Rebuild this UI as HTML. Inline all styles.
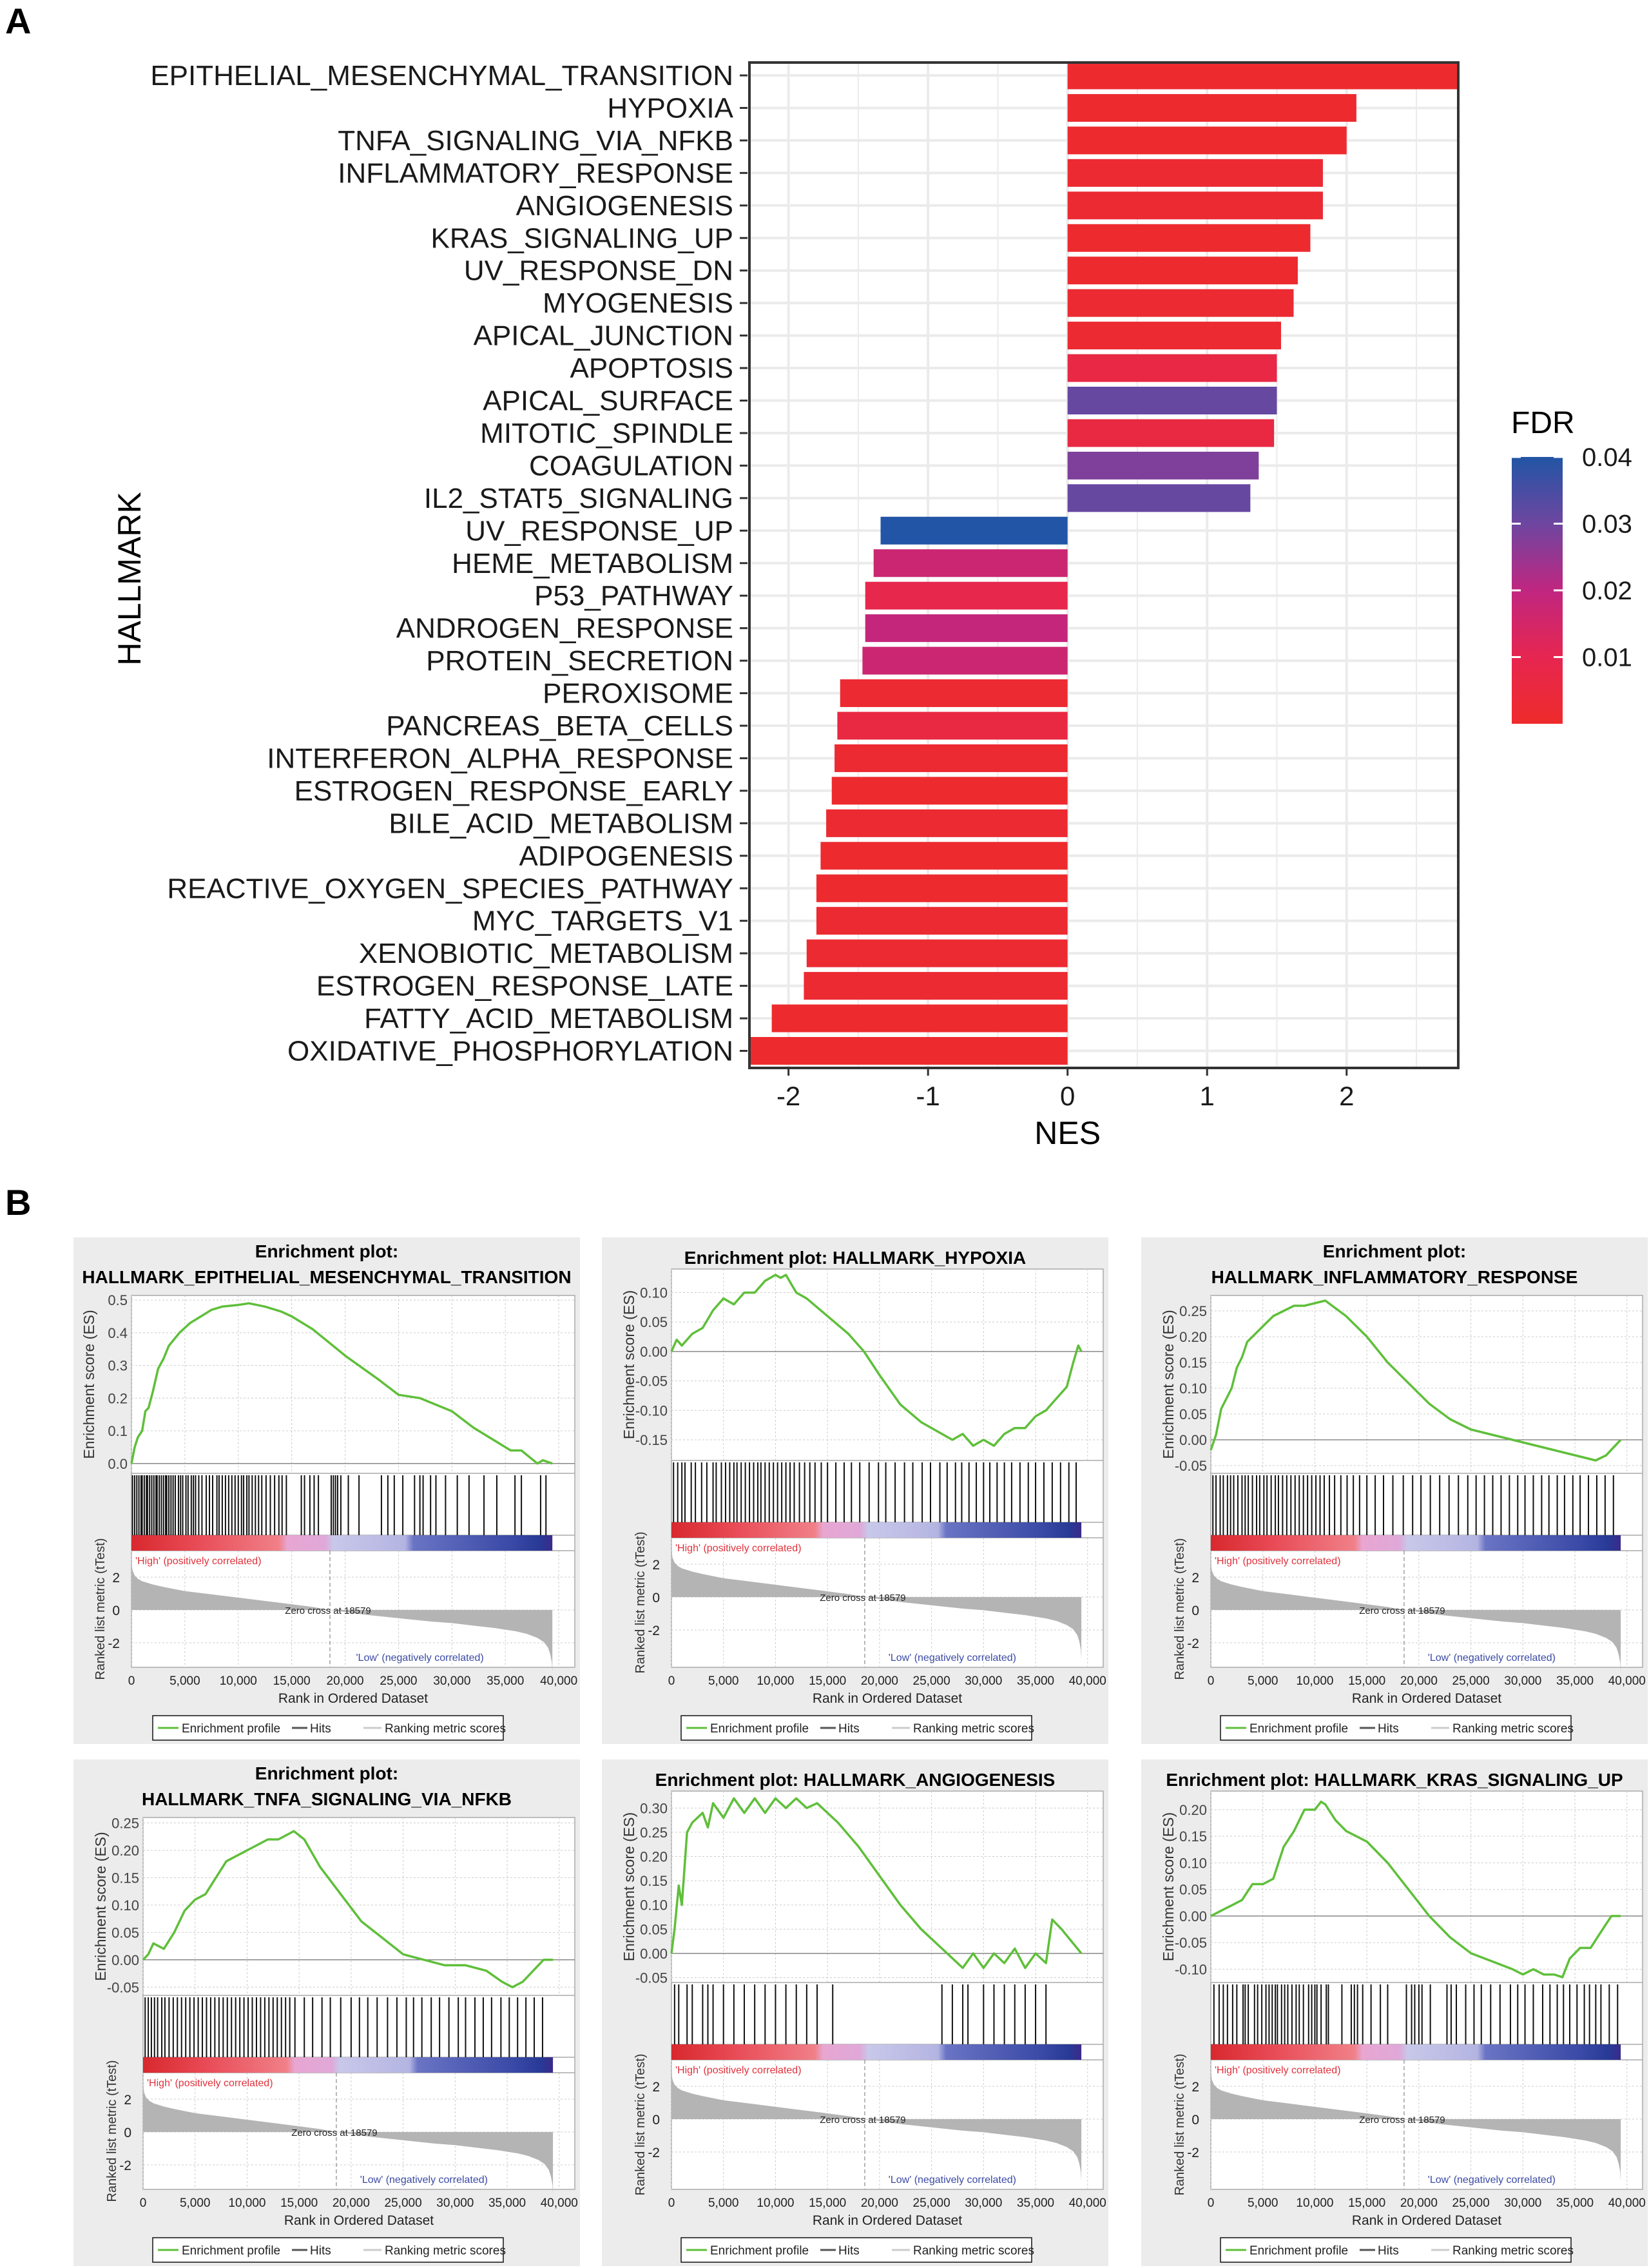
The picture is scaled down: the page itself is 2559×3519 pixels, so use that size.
<!DOCTYPE html>
<html><head><meta charset="utf-8">
<style>
html,body{margin:0;padding:0;background:#fff;}
body{width:2559px;height:3519px;position:relative;overflow:hidden;font-family:"Liberation Sans",Arial,sans-serif;}
svg{position:absolute;left:0;top:0;}
</style></head>
<body>
<svg id="chartA" width="2559" height="1910" viewBox="0 0 2559 1910"></svg>
<div id="panelsB"></div>
<script>
// ===== Panel A data =====
const pathways = ["EPITHELIAL_MESENCHYMAL_TRANSITION","HYPOXIA","TNFA_SIGNALING_VIA_NFKB","INFLAMMATORY_RESPONSE","ANGIOGENESIS","KRAS_SIGNALING_UP","UV_RESPONSE_DN","MYOGENESIS","APICAL_JUNCTION","APOPTOSIS","APICAL_SURFACE","MITOTIC_SPINDLE","COAGULATION","IL2_STAT5_SIGNALING","UV_RESPONSE_UP","HEME_METABOLISM","P53_PATHWAY","ANDROGEN_RESPONSE","PROTEIN_SECRETION","PEROXISOME","PANCREAS_BETA_CELLS","INTERFERON_ALPHA_RESPONSE","ESTROGEN_RESPONSE_EARLY","BILE_ACID_METABOLISM","ADIPOGENESIS","REACTIVE_OXYGEN_SPECIES_PATHWAY","MYC_TARGETS_V1","XENOBIOTIC_METABOLISM","ESTROGEN_RESPONSE_LATE","FATTY_ACID_METABOLISM","OXIDATIVE_PHOSPHORYLATION"];
const nesValues = [2.85,2.07,2.0,1.83,1.83,1.74,1.65,1.62,1.53,1.5,1.5,1.48,1.37,1.31,-1.34,-1.39,-1.45,-1.45,-1.47,-1.63,-1.65,-1.67,-1.69,-1.73,-1.77,-1.8,-1.8,-1.87,-1.89,-2.12,-2.3];
const fdrValues = [0.001,0.001,0.001,0.002,0.002,0.001,0.001,0.002,0.002,0.007,0.031,0.006,0.028,0.031,0.04,0.017,0.009,0.019,0.017,0.002,0.006,0.002,0.001,0.002,0.001,0.001,0.002,0.002,0.002,0.001,0.001];
const nesTicks = [-2,-1,0,1,2];
const fdrTicks = [0.01,0.02,0.03,0.04];

const NS="http://www.w3.org/2000/svg";
function mk(parent,tag,attrs,text){const e=document.createElementNS(NS,tag);for(const k in attrs)e.setAttribute(k,attrs[k]);if(text!==undefined)e.textContent=text;parent.appendChild(e);return e;}

function lerp(a,b,t){return a+(b-a)*t;}
function fdrColor(f){
  const stops=[[0,[238,43,43]],[0.01,[230,38,80]],[0.02,[192,38,128]],[0.03,[110,70,160]],[0.04,[34,85,165]]];
  f=Math.max(0,Math.min(0.04,f));
  for(let i=0;i<stops.length-1;i++){const a=stops[i],b=stops[i+1];if(f<=b[0]){const t=(f-a[0])/(b[0]-a[0]);return `rgb(${Math.round(lerp(a[1][0],b[1][0],t))},${Math.round(lerp(a[1][1],b[1][1],t))},${Math.round(lerp(a[1][2],b[1][2],t))})`;}}
  return "rgb(34,85,165)";
}

(function(){
  const svg=document.getElementById('chartA');
  const L=1163,R=2263,T=97,B=1657;
  const xmin=-2.28,xmax=2.8;
  const X=v=>L+(v-xmin)/(xmax-xmin)*(R-L);
  const rowTop=117,rowStep=50.45,barH=43;
  const Y=i=>rowTop+i*rowStep;
  let t=mk(svg,'text',{x:8,y:52,'font-size':56,'font-weight':'bold',fill:'#000'},'A');
  
  const g=mk(svg,'g',{});
  for(let v=-2;v<=2.5;v+=0.5){mk(g,'line',{x1:X(v),x2:X(v),y1:T,y2:B,stroke:'#ebebeb','stroke-width':Number.isInteger(v)?4:2});}
  pathways.forEach((p,i)=>{mk(g,'line',{x1:L,x2:R,y1:Y(i),y2:Y(i),stroke:'#ebebeb','stroke-width':4});});
  pathways.forEach((p,i)=>{
    const v=nesValues[i];const x0=X(0),x1=X(Math.max(xmin,Math.min(xmax,v)));
    const r=mk(svg,'rect',{x:Math.min(x0,x1),y:Y(i)-barH/2,width:Math.abs(x1-x0),height:barH,fill:fdrColor(fdrValues[i])});
    
    
    const lb=mk(svg,'text',{x:1138,y:Y(i)+15,'font-size':44,'text-anchor':'end',fill:'#1a1a1a'},p);
    
    
    mk(svg,'line',{x1:1148,x2:1160,y1:Y(i),y2:Y(i),stroke:'#333','stroke-width':3});
  });
  const fr=mk(svg,'rect',{x:L,y:T,width:R-L,height:B-T,fill:'none',stroke:'#333','stroke-width':4});
  
  nesTicks.forEach(v=>{
    mk(svg,'line',{x1:X(v),x2:X(v),y1:B,y2:B+12,stroke:'#333','stroke-width':3});
    const tt=mk(svg,'text',{x:X(v),y:B+58,'font-size':42,'text-anchor':'middle',fill:'#1a1a1a'},String(v));
    
  });
  t=mk(svg,'text',{x:X(0),y:1775,'font-size':50,'text-anchor':'middle',fill:'#000'},'NES');
  
  t=mk(svg,'text',{x:0,y:0,'font-size':50,'text-anchor':'middle',fill:'#000',transform:'translate(218,898) rotate(-90)'},'HALLMARK');
  
  const lg=mk(svg,'g',{});
  mk(lg,'text',{x:2345,y:672,'font-size':48,fill:'#000'},'FDR');
  const defs=mk(svg,'defs',{});
  const gr=mk(defs,'linearGradient',{id:'fdrg',x1:0,y1:1,x2:0,y2:0});
  [0,0.25,0.5,0.75,1].forEach(s=>{mk(gr,'stop',{offset:s,'stop-color':fdrColor(s*0.04)});});
  const cbT=709,cbB=1123,cbL=2346,cbR=2425;
  mk(lg,'rect',{x:cbL,y:cbT,width:cbR-cbL,height:cbB-cbT,fill:'url(#fdrg)'});
  fdrTicks.forEach(f=>{
    const y=cbB-(f/0.04)*(cbB-cbT);
    mk(lg,'line',{x1:cbL,x2:cbL+14,y1:y,y2:y,stroke:'#fff','stroke-width':3});
    mk(lg,'line',{x1:cbR-14,x2:cbR,y1:y,y2:y,stroke:'#fff','stroke-width':3});
    mk(lg,'text',{x:2455,y:y+14,'font-size':40,fill:'#1a1a1a'},f.toFixed(2));
  });
  t=mk(svg,'text',{x:8,y:1885,'font-size':56,'font-weight':'bold',fill:'#000'},'B');
  
})();

// ===== Panel B data (rank in thousands) =====
const esRank1=[0,0.3,0.6,1,1.3,1.6,2,2.5,3,3.5,4.5,5.5,6.5,7.5,8.5,10,11,12.5,14,15,17,20,23,25,27,28.5,30,32,34,35.5,36.5,38,38.5,39.4];
const esVal1=[0,0.05,0.08,0.1,0.16,0.17,0.22,0.29,0.32,0.36,0.4,0.43,0.45,0.47,0.48,0.485,0.49,0.48,0.465,0.45,0.41,0.33,0.26,0.21,0.2,0.18,0.16,0.11,0.07,0.04,0.04,0.0,0.01,0.0];
const esRank2=[0,0.5,1,2,3,4,5,6,7,8,9,10,10.5,11,12,13,15,17,18.5,20,22,24,26,27,28,29,30,31,32,33,34,35,36,37,38,38.6,39.1,39.4];
const esVal2=[0,0.02,0.01,0.03,0.04,0.07,0.09,0.08,0.1,0.1,0.12,0.13,0.125,0.13,0.1,0.09,0.06,0.03,0.0,-0.04,-0.09,-0.12,-0.14,-0.15,-0.14,-0.16,-0.15,-0.16,-0.14,-0.13,-0.13,-0.11,-0.1,-0.08,-0.06,-0.02,0.01,0.0];
const esRank3=[0,0.5,1,1.5,2,2.5,3,3.5,4,5,6,7,8,9,10,11,12,13,15,17,19,21,23,25,27,29,31,33,35,37,38,39.4];
const esVal3=[-0.02,0.01,0.06,0.08,0.1,0.14,0.16,0.19,0.2,0.22,0.24,0.25,0.26,0.26,0.265,0.27,0.255,0.24,0.2,0.15,0.11,0.07,0.04,0.02,0.01,0.0,-0.01,-0.02,-0.03,-0.04,-0.03,0.0];
const esRank4=[0,0.5,1,2,3,4,5,6,7,8,9,10,11,12,13,14,14.5,15.5,17,19,21,23,25,27,29,31,33,34.5,35.5,36.5,37.5,38.5,39.4];
const esVal4=[0,0.01,0.03,0.02,0.05,0.09,0.11,0.12,0.15,0.18,0.19,0.2,0.21,0.22,0.22,0.23,0.235,0.22,0.17,0.12,0.07,0.04,0.01,0.0,-0.01,-0.01,-0.02,-0.04,-0.05,-0.04,-0.02,0.0,0.0];
const esRank5=[0,0.3,0.7,1,1.5,2,3,3.5,4,5,6,7,8,9,10,11,12,13,14,16,18,20,22,24,26,28,29,30,31,32,33,34,35,36,36.6,37.5,39.4];
const esVal5=[0,0.05,0.14,0.1,0.25,0.27,0.29,0.26,0.31,0.28,0.32,0.29,0.32,0.29,0.32,0.3,0.32,0.3,0.31,0.27,0.22,0.16,0.1,0.05,0.01,-0.03,0.0,-0.03,0.0,-0.02,0.01,-0.03,0.0,-0.02,0.07,0.05,0.0];
const esRank6=[0,1,2,3,4,5,6,7,8,9,10,10.6,11,12,13,15,17,19,21,23,25,27,29,30,31,32,33,33.8,34.5,35.5,36.5,37.5,38.5,39.4];
const esVal6=[0,0.01,0.02,0.03,0.06,0.06,0.07,0.13,0.16,0.2,0.2,0.215,0.21,0.18,0.16,0.14,0.1,0.05,0.0,-0.04,-0.07,-0.085,-0.1,-0.11,-0.1,-0.11,-0.11,-0.115,-0.08,-0.06,-0.06,-0.03,0.0,0.0];

const hits1=[0.1,0.3,0.5,0.7,0.9,1.0,1.2,1.4,1.5,1.7,1.9,2.1,2.3,2.4,2.6,2.8,3.0,3.2,3.3,3.5,3.7,3.9,4.1,4.4,4.6,4.8,5.1,5.3,5.6,5.8,6.0,6.3,6.6,7.0,7.3,7.6,8.0,8.2,8.5,8.8,9.1,9.4,9.7,10.0,10.3,10.5,10.8,11.0,11.3,11.6,11.9,12.2,12.6,13.0,13.4,13.8,14.1,14.5,15.9,16.2,16.7,17.1,17.5,18.7,18.9,19.1,19.3,19.6,20.3,21.3,23.4,24.0,24.6,25.4,26.5,27.0,27.3,28.0,28.5,29.4,30.5,31.6,33.0,34.2,35.9,36.5,38.3,38.8];
const hits2=[0.2,0.6,1.0,1.3,1.9,2.3,2.9,3.4,4.0,4.3,4.8,5.2,5.6,6.0,6.3,6.7,7.1,7.5,7.9,8.3,8.6,9.0,9.4,9.8,10.2,10.6,11.0,11.4,11.8,12.3,12.8,13.3,13.8,14.4,15.0,15.8,16.6,17.3,18.1,19.0,19.9,20.6,21.5,22.4,23.2,24.1,24.9,25.8,26.5,27.3,27.9,28.6,29.3,30.0,30.6,31.3,32.0,32.7,33.5,34.3,35.0,35.8,36.6,37.4,38.2,38.9];
const hits3=[0.2,0.5,0.9,1.2,1.6,1.9,2.2,2.6,3.0,3.3,3.6,4.0,4.4,4.7,5.1,5.4,5.8,6.2,6.5,6.9,7.3,7.7,8.1,8.5,8.9,9.3,9.7,10.1,10.5,10.9,11.4,11.9,12.5,13.1,13.7,14.3,15.0,15.8,16.6,17.5,18.5,19.4,20.2,21.1,22.0,22.9,23.8,24.7,25.5,26.3,27.1,27.9,28.7,29.5,30.2,31.0,31.8,32.5,33.3,34.0,34.8,35.5,36.3,37.1,37.9,38.7];
const hits4=[0.2,0.5,0.8,1.1,1.4,1.8,2.1,2.5,2.9,3.3,3.7,4.1,4.5,4.9,5.3,5.7,6.1,6.5,6.9,7.3,7.7,8.1,8.5,8.9,9.3,9.7,10.1,10.5,10.9,11.3,11.7,12.1,12.5,12.9,13.3,13.7,14.1,14.6,15.5,16.3,17.2,18.0,19.0,20.0,20.8,21.6,22.5,23.5,24.4,25.3,26.0,26.8,27.7,28.5,29.4,30.3,31.0,31.9,32.7,33.5,34.4,35.2,36.0,36.8,37.6,38.4];
const hits5=[0.3,0.7,1.5,2.0,3.0,3.5,4.0,5.0,6.0,7.0,8.0,9.0,10.0,11.0,12.0,13.0,14.0,15.5,26.0,27.0,28.0,28.5,30.0,31.0,32.0,33.0,34.0,35.0,36.0];
const hits6=[0.3,0.8,1.2,1.6,2.1,2.5,3.1,3.3,3.6,4.2,4.5,4.9,5.3,5.6,5.9,6.2,6.4,6.8,7.1,7.4,7.8,8.2,8.5,8.9,9.4,9.7,10.0,10.2,10.6,11.1,11.3,12.6,13.5,13.8,14.1,14.6,15.4,16.3,17.0,18.8,19.3,19.6,20.0,20.3,21.1,22.7,23.1,23.6,24.5,25.3,26.0,26.9,27.8,28.8,29.5,30.2,31.0,31.9,32.6,33.3,33.9,34.5,35.2,35.9,36.4,37.0,37.5,38.3,39.1];

const metricRank=[0,0.1,0.3,0.6,1,2,3,5,7.5,10,12.5,15,17,18.579,20,22,25,28,30,32,34,36,37,38,38.6,39,39.2,39.35,39.4];
const metricVal=[2.9,2.4,2.1,1.9,1.75,1.55,1.4,1.15,0.95,0.75,0.55,0.35,0.18,0,-0.12,-0.3,-0.5,-0.7,-0.8,-0.95,-1.1,-1.3,-1.45,-1.7,-1.95,-2.3,-2.7,-3.2,-3.8];

const panelTitles=[["Enrichment plot:","HALLMARK_EPITHELIAL_MESENCHYMAL_TRANSITION"],["Enrichment plot: HALLMARK_HYPOXIA"],["Enrichment plot:","HALLMARK_INFLAMMATORY_RESPONSE"],["Enrichment plot:","HALLMARK_TNFA_SIGNALING_VIA_NFKB"],["Enrichment plot: HALLMARK_ANGIOGENESIS"],["Enrichment plot: HALLMARK_KRAS_SIGNALING_UP"]];
const esTicks1=[0.0,0.1,0.2,0.3,0.4,0.5];
const esTicks2=[-0.15,-0.10,-0.05,0.00,0.05,0.10];
const esTicks3=[-0.05,0.00,0.05,0.10,0.15,0.20,0.25];
const esTicks4=[-0.05,0.00,0.05,0.10,0.15,0.20,0.25];
const esTicks5=[-0.05,0.00,0.05,0.10,0.15,0.20,0.25,0.30];
const esTicks6=[-0.10,-0.05,0.00,0.05,0.10,0.15,0.20];
const rankTicks=[0,5000,10000,15000,20000,25000,30000,35000,40000];
const metricTicks=[-2,0,2];

const panelsCfg=[
 {x:114,y:1920,r:esRank1,v:esVal1,h:hits1,ticks:esTicks1,ymin:-0.03,ymax:0.514,fl:90,dec:1,key:'emt'},
 {x:934,y:1920,r:esRank2,v:esVal2,h:hits2,ticks:esTicks2,ymin:-0.185,ymax:0.14,fl:108,dec:2,key:'hypoxia'},
 {x:1771,y:1920,r:esRank3,v:esVal3,h:hits3,ticks:esTicks3,ymin:-0.065,ymax:0.28,fl:108,dec:2,key:'inflammatory-response'},
 {x:114,y:2730,r:esRank4,v:esVal4,h:hits4,ticks:esTicks4,ymin:-0.065,ymax:0.26,fl:108,dec:2,key:'tnfa-signaling'},
 {x:934,y:2730,r:esRank5,v:esVal5,h:hits5,ticks:esTicks5,ymin:-0.06,ymax:0.335,fl:108,dec:2,key:'angiogenesis'},
 {x:1771,y:2730,r:esRank6,v:esVal6,h:hits6,ticks:esTicks6,ymin:-0.125,ymax:0.235,fl:108,dec:2,key:'kras-signaling-up'}
];

const cont=document.getElementById('panelsB');
panelsCfg.forEach((c,pi)=>{
  const svg=document.createElementNS(NS,'svg');
  svg.setAttribute('width',786);svg.setAttribute('height',786);
  svg.setAttribute('style',`left:${c.x}px;top:${c.y}px;`);
  
  
  cont.appendChild(svg);
  mk(svg,'rect',{x:0,y:0,width:786,height:786,fill:'#ececec'});
  const title=panelTitles[pi];const two=title.length>1;
  title.forEach((s,i)=>{const tt=mk(svg,'text',{x:393,y:two?(31+i*40):41,'font-size':28,'font-weight':'bold','text-anchor':'middle',fill:'#000'},s);
    });
  const FL=c.fl,FR=778;
  const esT=two?90:49, esB=two?366:346;
  const hB=esB+96, cB=hB+24, mB=667;
  const X=r=>FL+r/41500*(FR-FL);
  const YE=v=>esB-(v-c.ymin)/(c.ymax-c.ymin)*(esB-esT);
  const mZero=cB+92, mScale=25.5;
  const YM=v=>mZero-v*mScale;
  mk(svg,'rect',{x:FL,y:esT,width:FR-FL,height:mB-esT,fill:'#fff',stroke:'#aaa','stroke-width':1.5});
  rankTicks.forEach(r=>{
    mk(svg,'line',{x1:X(r),x2:X(r),y1:esT,y2:esB,stroke:'#ccc','stroke-dasharray':'3,3'});
    mk(svg,'line',{x1:X(r),x2:X(r),y1:cB,y2:mB,stroke:'#ccc','stroke-dasharray':'3,3'});
    const tl=mk(svg,'text',{x:X(r),y:694,'font-size':19,'text-anchor':'middle',fill:'#222'},r.toLocaleString('en-US'));
    
  });
  c.ticks.forEach(v=>{
    mk(svg,'line',{x1:FL,x2:FR,y1:YE(v),y2:YE(v),stroke:'#ccc','stroke-dasharray':'3,3'});
    const tl=mk(svg,'text',{x:FL-6,y:YE(v)+8,'font-size':22,'text-anchor':'end',fill:'#444'},v.toFixed(c.dec));
    
  });
  mk(svg,'line',{x1:FL,x2:FR,y1:YE(0),y2:YE(0),stroke:'#888','stroke-width':1.5});
  mk(svg,'line',{x1:FL,x2:FR,y1:esB,y2:esB,stroke:'#aaa','stroke-width':1.5});
  mk(svg,'line',{x1:FL,x2:FR,y1:hB,y2:hB,stroke:'#aaa','stroke-width':1.5});
  mk(svg,'line',{x1:FL,x2:FR,y1:cB,y2:cB,stroke:'#aaa','stroke-width':1.5});
  let d='';c.r.forEach((r,i)=>{d+=(i?'L':'M')+X(r*1000).toFixed(1)+','+YE(c.v[i]).toFixed(1);});
  const es=mk(svg,'path',{d:d,fill:'none',stroke:'#5fbf3a','stroke-width':3.5,'stroke-linejoin':'round'});
  
  const hg=mk(svg,'g',{});
  c.h.forEach(h=>{mk(hg,'line',{x1:X(h*1000),x2:X(h*1000),y1:esB+3,y2:hB,stroke:'#111','stroke-width':2});});
  const gid='cb'+pi;const defs=mk(svg,'defs',{});
  const gr=mk(defs,'linearGradient',{id:gid,x1:0,y1:0,x2:1,y2:0});
  [[0,'#d8282e'],[0.15,'#e84a55'],[0.35,'#f08088'],[0.37,'#e8a6d2'],[0.46,'#e0a8d8'],[0.48,'#c8c8ea'],[0.65,'#b4b4e2'],[0.67,'#6a74c4'],[0.9,'#3a4aa6'],[0.97,'#283a96'],[1,'#3a2a8a']].forEach(s=>mk(gr,'stop',{offset:s[0],'stop-color':s[1]}));
  const cbr=mk(svg,'rect',{x:FL,y:hB,width:X(39400)-FL,height:cB-hB,fill:`url(#${gid})`});
  
  metricTicks.forEach(v=>{
    mk(svg,'line',{x1:FL,x2:FR,y1:YM(v),y2:YM(v),stroke:'#ccc','stroke-dasharray':'3,3'});
    mk(svg,'text',{x:FL-18,y:YM(v)+8,'font-size':21,'text-anchor':'end',fill:'#222'},String(v));
  });
  let md='M'+X(0)+','+YM(0);
  metricRank.forEach((r,i)=>{md+='L'+X(r*1000).toFixed(1)+','+YM(metricVal[i]).toFixed(1);});
  md+='L'+X(39400)+','+YM(0)+'Z';
  const ma=mk(svg,'path',{d:md,fill:'#b4b4b4',stroke:'none'});
  
  mk(svg,'line',{x1:X(18579),x2:X(18579),y1:cB,y2:mB,stroke:'#888','stroke-dasharray':'6,4','stroke-width':1.2});
  mk(svg,'text',{x:X(18579)-3,y:YM(0)+6,'font-size':15,'text-anchor':'middle',fill:'#222'},'Zero cross at 18579');
  mk(svg,'text',{x:FL+6,y:cB+21,'font-size':16,fill:'#e0323c'},"'High' (positively correlated)");
  mk(svg,'text',{x:X(27000),y:mB-10,'font-size':16,'text-anchor':'middle',fill:'#3a4aa6'},"'Low' (negatively correlated)");
  let at=mk(svg,'text',{x:0,y:0,'font-size':23,'text-anchor':'middle',fill:'#333',transform:`translate(${FL-58},${(esT+esB)/2}) rotate(-90)`},'Enrichment score (ES)');
  
  at=mk(svg,'text',{x:0,y:0,'font-size':20,'text-anchor':'middle',fill:'#333',transform:`translate(${FL-42},${(cB+mB)/2}) rotate(-90)`},'Ranked list metric (tTest)');
  
  at=mk(svg,'text',{x:(FL+FR)/2,y:722,'font-size':21,'text-anchor':'middle',fill:'#222'},'Rank in Ordered Dataset');
  
  const lg=mk(svg,'g',{});
  mk(lg,'rect',{x:123,y:742,width:544,height:38,fill:'#fff',stroke:'#111','stroke-width':1.5});
  mk(lg,'line',{x1:131,x2:163,y1:761,y2:761,stroke:'#5fbf3a','stroke-width':3});
  mk(lg,'text',{x:168,y:768,'font-size':19,fill:'#222'},'Enrichment profile');
  mk(lg,'line',{x1:339,x2:363,y1:761,y2:761,stroke:'#555','stroke-width':3});
  mk(lg,'text',{x:367,y:768,'font-size':19,fill:'#222'},'Hits');
  mk(lg,'line',{x1:450,x2:478,y1:761,y2:761,stroke:'#ccc','stroke-width':3});
  mk(lg,'text',{x:483,y:768,'font-size':19,fill:'#222'},'Ranking metric scores');
});
</script>
</body></html>
